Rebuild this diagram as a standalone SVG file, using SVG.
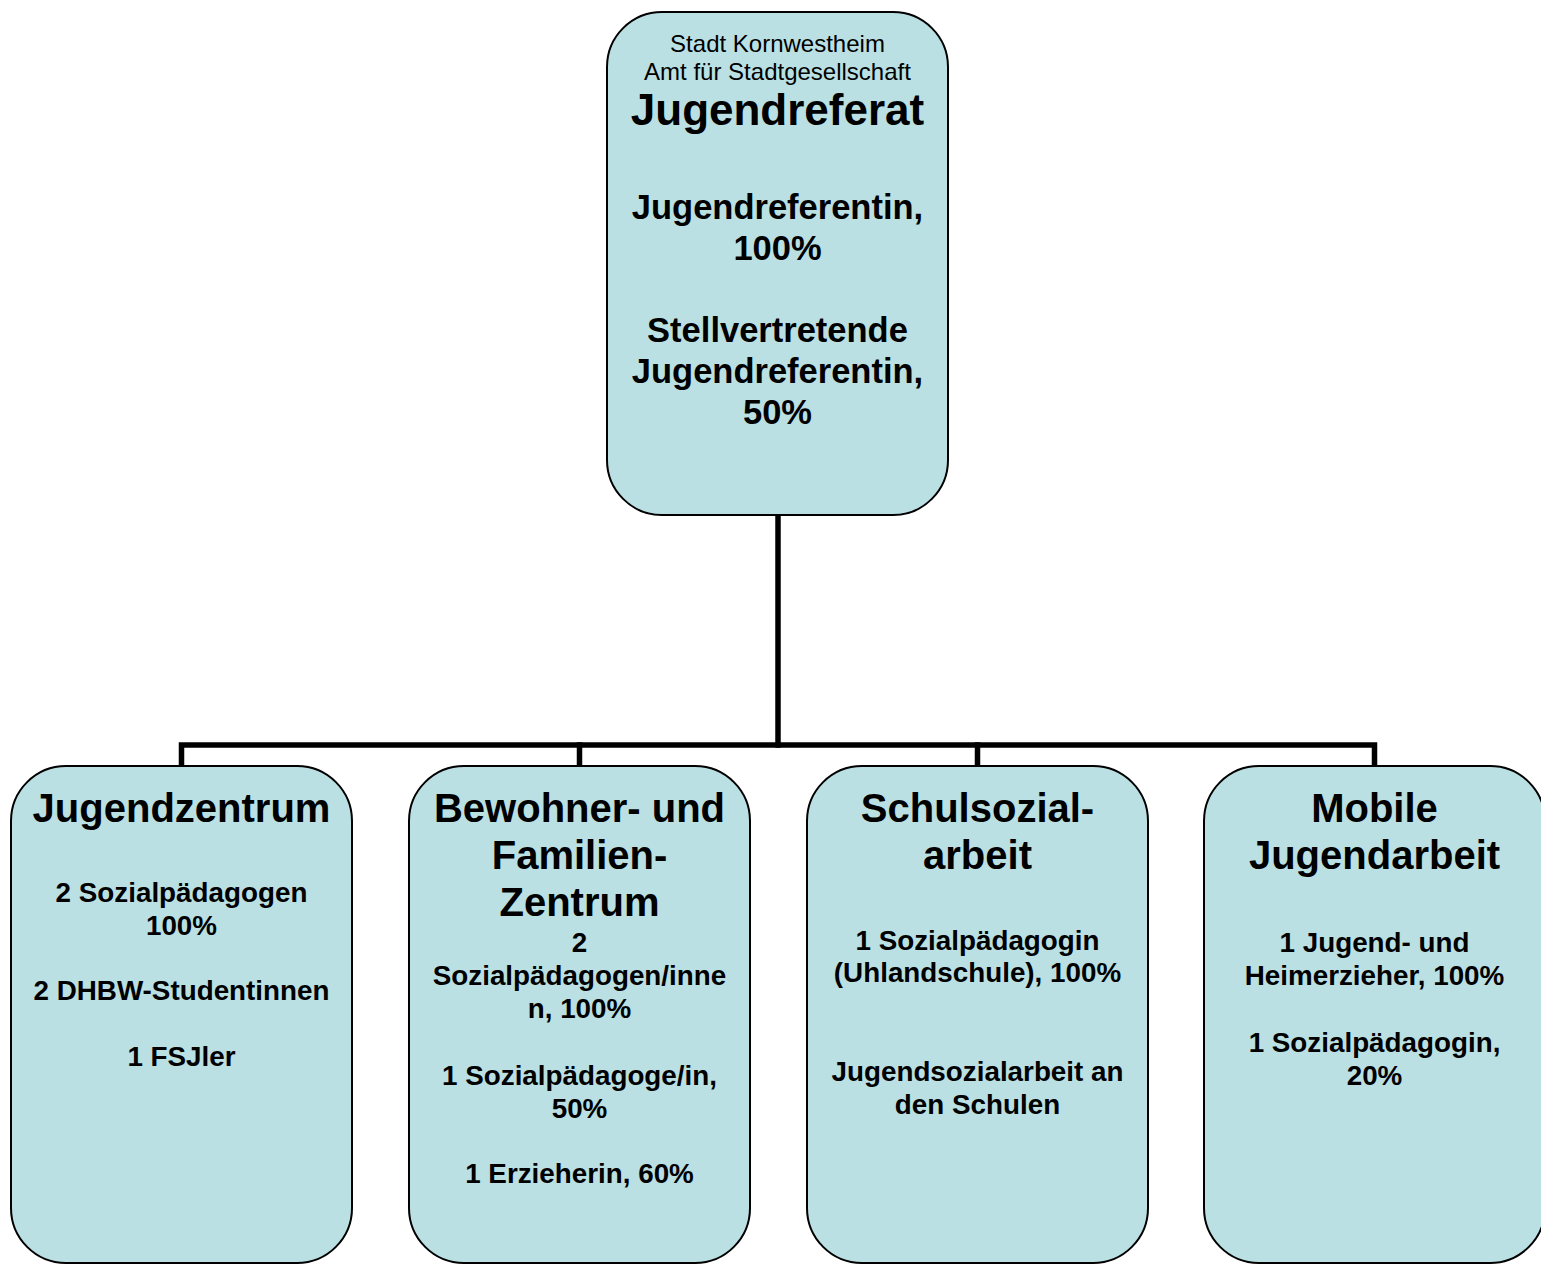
<svg xmlns="http://www.w3.org/2000/svg" width="1541" height="1264" viewBox="0 0 1541 1264">
<style>
.box{fill:#BAE0E3;stroke:#000;stroke-width:2}
.conn{fill:none;stroke:#000;stroke-width:5.5;stroke-linecap:square;stroke-linejoin:miter}
text{font-family:"Liberation Sans",Arial,sans-serif;text-anchor:middle;fill:#000}
.small{font-size:24px}
.head{font-size:44px;font-weight:bold}
.big{font-size:34.5px;font-weight:bold}
.title{font-size:40px;font-weight:bold}
.body{font-size:27.8px;font-weight:bold}
</style>
<rect width="1541" height="1264" fill="#fff"/>
<g id="connectors">
<path class="conn" d="M778 515 V745"/>
<path class="conn" d="M181.5 766 V745 H1374.5 V766"/>
<path class="conn" d="M579.5 745 V766"/>
<path class="conn" d="M977.5 745 V766"/>
</g>
<g id="jugendreferat">
<rect class="box" x="607" y="12" width="341" height="503" rx="55" ry="55"/>
<text class="small" x="777.5" y="52">Stadt Kornwestheim</text>
<text class="small" x="777.5" y="80">Amt für Stadtgesellschaft</text>
<text class="head" x="777.5" y="125">Jugendreferat</text>
<text class="big" x="777.5" y="219">Jugendreferentin,</text>
<text class="big" x="777.5" y="260">100%</text>
<text class="big" x="777.5" y="342">Stellvertretende</text>
<text class="big" x="777.5" y="383">Jugendreferentin,</text>
<text class="big" x="777.5" y="424">50%</text>
</g>
<g id="jugendzentrum">
<rect class="box" x="11" y="766" width="341" height="497" rx="55" ry="55"/>
<text class="title" x="181.5" y="822">Jugendzentrum</text>
<text class="body" x="181.5" y="902">2 Sozialpädagogen</text>
<text class="body" x="181.5" y="935">100%</text>
<text class="body" x="181.5" y="1000">2 DHBW-Studentinnen</text>
<text class="body" x="181.5" y="1066">1 FSJler</text>
</g>
<g id="bewohnerzentrum">
<rect class="box" x="409" y="766" width="341" height="497" rx="55" ry="55"/>
<text class="title" x="579.5" y="822">Bewohner- und</text>
<text class="title" x="579.5" y="869">Familien-</text>
<text class="title" x="579.5" y="916">Zentrum</text>
<text class="body" x="579.5" y="952">2</text>
<text class="body" x="579.5" y="985">Sozialpädagogen/inne</text>
<text class="body" x="579.5" y="1018">n, 100%</text>
<text class="body" x="579.5" y="1085">1 Sozialpädagoge/in,</text>
<text class="body" x="579.5" y="1118">50%</text>
<text class="body" x="579.5" y="1183">1 Erzieherin, 60%</text>
</g>
<g id="schulsozialarbeit">
<rect class="box" x="807" y="766" width="341" height="497" rx="55" ry="55"/>
<text class="title" x="977.5" y="822">Schulsozial-</text>
<text class="title" x="977.5" y="869">arbeit</text>
<text class="body" x="977.5" y="950">1 Sozialpädagogin</text>
<text class="body" x="977.5" y="982">(Uhlandschule), 100%</text>
<text class="body" x="977.5" y="1081">Jugendsozialarbeit an</text>
<text class="body" x="977.5" y="1114">den Schulen</text>
</g>
<g id="mobile">
<rect class="box" x="1204" y="766" width="341" height="497" rx="55" ry="55"/>
<text class="title" x="1374.5" y="822">Mobile</text>
<text class="title" x="1374.5" y="869">Jugendarbeit</text>
<text class="body" x="1374.5" y="952">1 Jugend- und</text>
<text class="body" x="1374.5" y="985">Heimerzieher, 100%</text>
<text class="body" x="1374.5" y="1052">1 Sozialpädagogin,</text>
<text class="body" x="1374.5" y="1085">20%</text>
</g>
</svg>
